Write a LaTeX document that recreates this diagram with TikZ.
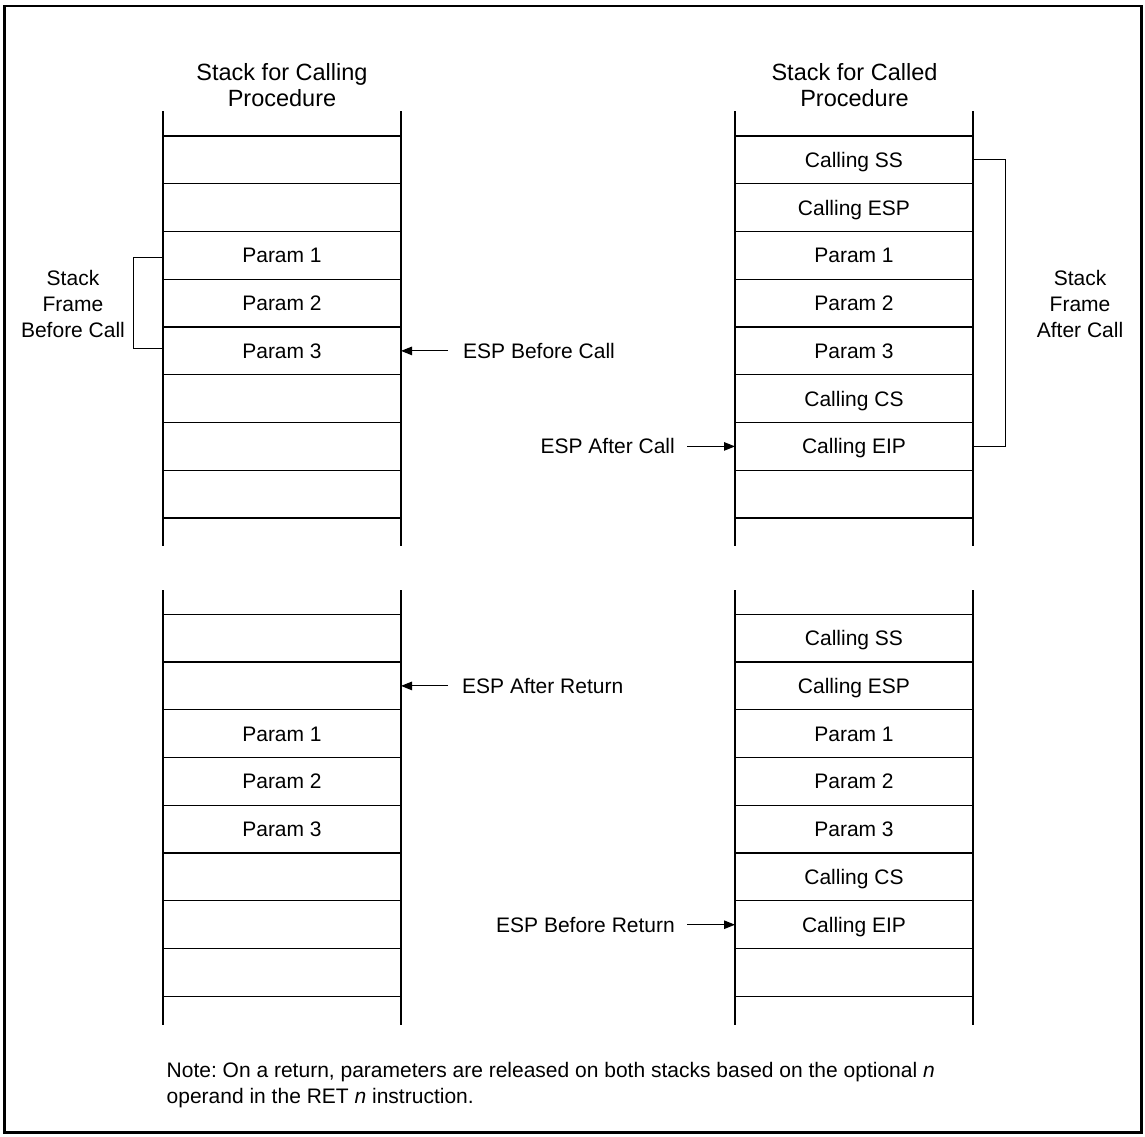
\documentclass[tikz,border=0pt]{standalone}
\usepackage{fontspec}
\setmainfont{Liberation Sans}
\usetikzlibrary{arrows.meta}
\frenchspacing
\begin{document}
\begin{tikzpicture}[x=1pt,y=-1pt,
  rule/.style={line width=1.3pt},
  brk/.style={line width=1pt},
  arr/.style={line width=1.1pt,-{Triangle[length=11pt,width=8.5pt]}},
  cell/.style={inner sep=0pt,font=\fontsize{21}{25.5}\selectfont,text height=15pt,text depth=0pt},
  lbl/.style={inner sep=0pt,font=\fontsize{21}{25.8}\selectfont,align=center},
  ttl/.style={inner sep=0pt,font=\fontsize{23.5}{26.7}\selectfont,align=center},
  esp/.style={inner sep=0pt,font=\fontsize{21}{25}\selectfont,text height=15pt,text depth=0pt},
  note/.style={inner sep=0pt,font=\fontsize{21}{26}\selectfont,align=left}]
\useasboundingbox (0,0) rectangle (1145,1136);
\draw[line width=2.7pt] (4.3,6) rectangle (1141.3,1132.6);
% stacks
\foreach \xa/\xb/\yt/\yl/\yb in {163/401/111/136/546, 735/973/111/136/546, 163/401/590/614.3/1025, 735/973/590/614.3/1025}{
  \draw[rule] (\xa,\yt) -- (\xa,\yb);
  \draw[rule] (\xb,\yt) -- (\xb,\yb);
  \foreach \k in {0,...,8} \draw[rule] (\xa,{\yl+47.75*\k}) -- (\xb,{\yl+47.75*\k});
}
% titles
\node[ttl,anchor=base] (t1) at (282,106.7) {Stack for Calling\\Procedure};
\node[ttl,anchor=base] (t2) at (854.5,106.7) {Stack for Called\\Procedure};
% upper left cells
\foreach \n/\t/\k in {a/Param 1/2, b/Param 2/3, c/Param 3/4}
  \node[cell] (UL\n) at (282,{136+47.75*(\k+0.5)}) {\t};
% upper right cells
\foreach \n/\t/\k in {a/Calling SS/0, b/Calling ESP/1, c/Param 1/2, d/Param 2/3, e/Param 3/4, f/Calling CS/5, g/Calling EIP/6}
  \node[cell] (UR\n) at (854,{136+47.75*(\k+0.5)}) {\t};
% lower left cells
\foreach \n/\t/\k in {a/Param 1/2, b/Param 2/3, c/Param 3/4}
  \node[cell] (LL\n) at (282,{614.3+47.75*(\k+0.5)}) {\t};
% lower right cells
\foreach \n/\t/\k in {a/Calling SS/0, b/Calling ESP/1, c/Param 1/2, d/Param 2/3, e/Param 3/4, f/Calling CS/5, g/Calling EIP/6}
  \node[cell] (LR\n) at (854,{614.3+47.75*(\k+0.5)}) {\t};
% side labels and brackets
\node[lbl] (sfb) at (73,304) {Stack\\Frame\\Before Call};
\node[lbl] (sfa) at (1080,304) {Stack\\Frame\\After Call};
\coordinate (bl1) at (163,257.3);
\coordinate (bl2) at (163,348.3);
\draw[brk] (bl1) -- ++(-30,0) |- (bl2);
\coordinate (br1) at (973,159.5);
\coordinate (br2) at (973,446.5);
\draw[brk] (br1) -- ++(32,0) |- (br2);
% ESP pointers
\coordinate (eULc) at (401,350.9);
\coordinate (eURg) at (735,446.4);
\coordinate (eLL1) at (401,685.9);
\coordinate (eLRg) at (735,924.7);
\node[esp,anchor=west] (ebc) at (463,350.9) {ESP Before Call};
\node[esp,anchor=east] (eac) at (675,446.4) {ESP After Call};
\node[esp,anchor=west] (ear) at (462,685.9) {ESP After Return};
\node[esp,anchor=east] (ebr) at (675,924.7) {ESP Before Return};
\draw[arr] ([xshift=-15pt]ebc.west) -- (eULc);
\draw[arr] ([xshift=12pt]eac.east) -- (eURg);
\draw[arr] ([xshift=-14pt]ear.west) -- (eLL1);
\draw[arr] ([xshift=12pt]ebr.east) -- (eLRg);
% note
\node[note,anchor=base west] (nt) at (166.5,1103.3) {Note: On a return, parameters are released on both stacks based on the optional \textit{n}\\operand in the RET \textit{n} instruction.};
\end{tikzpicture}
\end{document}
